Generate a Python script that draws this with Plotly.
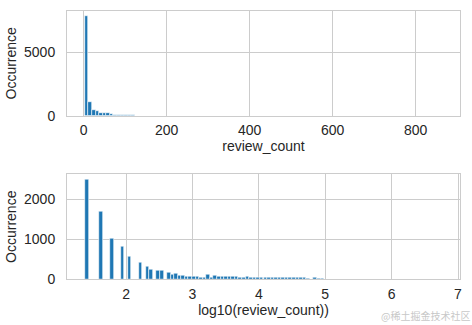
import plotly.graph_objects as go
from plotly.subplots import make_subplots

# ---- data ----
top_bin_width = 8.61
top_bin_centers = [7.3, 15.9, 24.5, 33.1, 41.7, 50.4, 59.0, 67.6, 76.2, 84.8,
                   93.4, 102.0, 110.6, 119.2, 127.9, 136.5, 145.1, 162.3, 188.2, 231.2]
top_counts = [7860, 1110, 480, 400, 185, 185, 170, 105, 80, 60,
              35, 25, 15, 10, 8, 6, 5, 4, 3, 2]

bottom_bin_width = 0.0538
bottom_bin_centers = [1.407, 1.622, 1.784, 1.945, 2.053, 2.214, 2.322, 2.375, 2.483, 2.537,
                      2.644, 2.698, 2.752, 2.806, 2.859, 2.913, 2.967, 3.021, 3.075, 3.128,
                      3.182, 3.236, 3.290, 3.343, 3.397, 3.451, 3.505, 3.559, 3.612, 3.666,
                      3.720, 3.774, 3.828, 3.881, 3.935, 3.989, 4.043, 4.097, 4.150, 4.204,
                      4.258, 4.312, 4.366, 4.419, 4.473, 4.527, 4.581, 4.635, 4.688, 4.742,
                      4.850, 4.904, 4.958]
bottom_counts = [2506, 1705, 1013, 810, 557, 405, 304, 236, 203, 203,
                 152, 118, 127, 101, 93, 76, 76, 68, 59, 50,
                 45, 125, 45, 95, 75, 75, 70, 60, 55, 60,
                 50, 40, 55, 45, 45, 40, 50, 45, 45, 50,
                 35, 40, 35, 30, 35, 30, 30, 30, 30, 25,
                 30, 25, 25]

top_xticks = [0, 200, 400, 600, 800]
top_yticks = [0, 5000]
bottom_xticks = [2, 3, 4, 5, 6, 7]
bottom_yticks = [0, 1000, 2000]

BAR = "#1f77b4"
GRID = "#cccccc"
TXT = "#262626"
FONT = "Liberation Sans, Arial, sans-serif"

fig = make_subplots(rows=2, cols=1)

fig.add_trace(go.Bar(x=top_bin_centers, y=top_counts,
                     width=[top_bin_width] * len(top_counts),
                     marker=dict(color=BAR, line=dict(color="white", width=0.6)),
                     showlegend=False), row=1, col=1)
fig.add_trace(go.Bar(x=bottom_bin_centers, y=bottom_counts,
                     width=[bottom_bin_width] * len(bottom_counts),
                     marker=dict(color=BAR, line=dict(color="white", width=0.6)),
                     showlegend=False), row=2, col=1)

axis_common = dict(showgrid=True, gridcolor=GRID, gridwidth=1,
                   showline=True, linecolor=GRID, linewidth=1, mirror=True,
                   zeroline=False, ticks="outside",
                   tickcolor="rgba(0,0,0,0)",
                   tickfont=dict(family=FONT, size=14, color=TXT),
                   title_font=dict(family=FONT, size=14, color=TXT))

fig.update_xaxes(**axis_common, ticklen=2)
fig.update_yaxes(**axis_common, ticklen=8)

fig.update_xaxes(range=[-40, 907], tickvals=top_xticks, domain=[0, 1],
                 title_text="review_count", title_standoff=2, row=1, col=1)
fig.update_yaxes(range=[0, 8250], tickvals=top_yticks, domain=[0.6097, 1],
                 title_text="Occurrence", title_standoff=4, row=1, col=1)
fig.update_xaxes(range=[1.11, 7.03], tickvals=bottom_xticks, domain=[0, 1],
                 title_text="log10(review_count))", title_standoff=2, row=2, col=1)
fig.update_yaxes(range=[0, 2631], tickvals=bottom_yticks, domain=[0, 0.390],
                 title_text="Occurrence", title_standoff=4, row=2, col=1)

fig.add_annotation(text="@稀土掘金技术社区", xref="paper", yref="paper",
                   x=1.03, y=-0.1375, xanchor="right", yanchor="middle",
                   showarrow=False,
                   font=dict(family="Noto Sans CJK SC", size=10, color="#c8c8c8"))

fig.update_layout(width=472, height=325,
                  margin=dict(l=63, r=10, t=10, b=46),
                  plot_bgcolor="white", paper_bgcolor="white",
                  bargap=0, font=dict(family=FONT, color=TXT))

fig.write_html("out.html")
